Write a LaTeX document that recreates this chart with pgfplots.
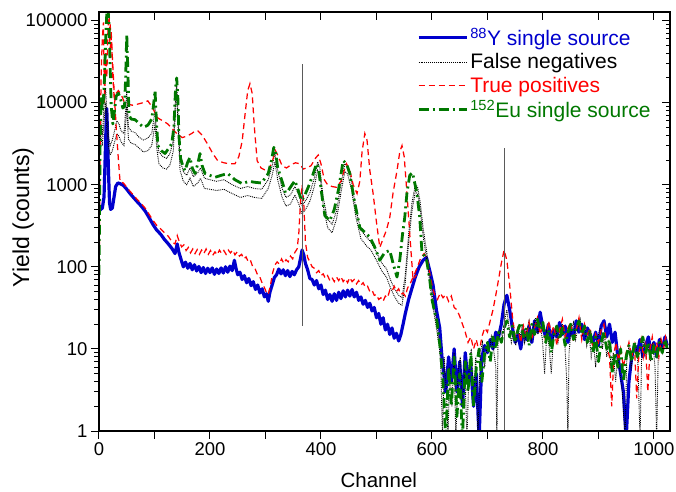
\documentclass[border=0pt]{standalone}
\usepackage{fontspec}
\setmainfont{Liberation Sans}
\usepackage{pgfplots}
\pgfplotsset{compat=1.18}
\definecolor{Yblue}{RGB}{0,0,205}
\definecolor{Eugreen}{RGB}{0,120,0}
\definecolor{Redc}{RGB}{255,0,0}
\definecolor{Vgray}{RGB}{90,90,90}
\begin{document}
\begin{tikzpicture}
\useasboundingbox (-99pt,-60pt) rectangle (577pt,431pt);
\begin{axis}[
  scale only axis, width=571pt, height=419pt,
  at={(0pt,0pt)}, anchor=south west,
  xmin=0, xmax=1029, ymin=1, ymax=127000, ymode=log,
  xtick={0,100,200,300,400,500,600,700,800,900,1000},
  ytick={1,10,100,1000,10000,100000},
  minor ytick={2,3,4,5,6,7,8,9,20,30,40,50,60,70,80,90,200,300,400,500,600,700,800,900,2000,3000,4000,5000,6000,7000,8000,9000,20000,30000,40000,50000,60000,70000,80000,90000},
  major tick length=8pt, minor tick length=4.5pt,
  every tick/.style={black, line width=1pt},
  axis line style={line width=1.3pt},
  /pgf/number format/assume math mode=true,
  xticklabels={0,,200,,400,,600,,800,,1000},
  yticklabels={1,10,100,1000,10000,100000},
  xtick pos=left, ytick pos=left, tick align=outside,
  tick label style={font=\fontsize{18.5}{21}\selectfont},
  xlabel={Channel}, ylabel={Yield (counts)},
  xlabel style={font=\fontsize{20.5}{24}\selectfont, at={(axis description cs:0.49,-0.118)}, anchor=center},
  ylabel style={font=\fontsize{23}{26}\selectfont, at={(axis description cs:-0.133,0.51)}, anchor=center},
  legend style={draw=none, fill=none, at={(axis description cs:0.975,0.972)}, anchor=north east,
    font=\fontsize{21}{24}\selectfont, row sep=2.5pt, nodes={inner sep=2pt}},
  legend cell align=left,
  legend image code/.code={\draw[#1] (0pt,0pt) -- (48pt,0pt);},
]
% 88Y single source
\addplot[Yblue, line width=3.2pt, line join=round, forget plot] coordinates {
(0,480) (3,500) (6,520) (9,700) (11,2000) (13,6000) (14,8500) (15,5000) (17,1500) (19,600) (21,500) (24,520) (27,700) (30,950) (34,1050) (38,1030) (44,980) (50,880) (56,780) (62,700) (68,630) (75,560) (83,480) (90,400) (97,330) (104,280) (111,250) (118,215) (125,190) (132,165) (137,145) (141,190) (144,150)
(148,122) (152,100) (156,114) (160,96) (164,110) (168,92) (172,106) (176,89) (180,101) (184,85) (188,98) (192,83) (196,96) (200,85) (204,97) (208,81) (212,94) (216,83) (220,97) (224,84) (228,100) (232,86) (236,102) (240,90) (244,120) (247,95) (250,80) (254,86) (258,70) (262,78) (266,64) (270,72) (274,59) (278,66) (282,53) (286,60) (290,48) (294,54) (298,43) (302,47) (305,38) (308,49) (312,60) (316,74) (320,80) (324,94) (328,82) (332,92) (336,78) (340,90) (344,76) (348,88) (352,80) (356,92) (360,100) (363,125) (366,160) (369,140) (372,110) (376,92) (380,72) (384,70) (388,60) (392,68) (396,54) (400,60) (404,46) (408,52) (412,40) (416,46) (420,38) (424,47) (428,39) (432,49) (436,41) (440,51) (444,43) (448,52) (452,44) (456,53) (460,43) (464,49) (468,39) (472,43) (476,35) (480,39) (484,32) (488,36) (492,29) (496,32) (500,24) (504,27) (508,20) (512,24) (516,17) (520,20) (524,15) (528,18) (532,13.5) (536,15.5) (540,12.5) (544,15)
(548,20) (552,27) (558,40) (564,55) (570,75) (577,100) (584,120) (590,130) (596,90) (602,60) (608,30) (614,18) (618,8)
(620,6) (625,3) (630,8) (635,4) (640,10) (645,3) (650,7) (655,2) (660,9) (665,4) (670,6) (675,2) (680,5) (685,0.8) (690,8) (695,11) (700,9) (705,13) (710,10) (715,16) (720,14) (725,20) (730,35) (735,45) (740,30) (745,18) (750,12) (755,15) (760,10) (765,17) (770,13) (775,19) (780,12) (785,22) (790,16) (795,28) (800,18) (805,14) (810,20) (815,11) (820,17) (825,14) (830,21) (835,15) (840,19) (845,12) (850,18) (855,14) (860,22) (865,16) (870,20) (875,13) (880,18) (885,15) (890,12) (895,16) (900,11) (905,19) (910,22) (915,14) (920,20) (925,12) (930,16) (935,8) (940,5) (945,3) (950,0.8) (955,4) (960,8) (965,11) (970,9) (975,13) (980,8) (985,11) (990,14) (995,9) (1000,12) (1005,8) (1010,13) (1015,10) (1020,14) (1024,11)
};
% False negatives (upper)
\addplot[black, densely dotted, line width=0.9pt, forget plot] coordinates {
(0,2500) (3,6000) (6,4000) (9,9000) (12,15000) (14,8000) (17,4000) (20,3000) (24,3500) (28,4500) (32,6000) (36,5500) (40,4500) (45,4200) (48,8000) (50,14000) (53,5000) (58,4500) (65,4300) (72,3800) (80,3500) (88,3700) (95,4200) (101,8000) (104,4000) (108,2500) (115,2200) (122,2100) (128,2400) (134,3500) (138,12000) (140,17000) (143,6000) (146,2000) (152,1450) (158,1300) (164,1600) (170,1250) (178,1400) (183,1600) (190,1200) (200,1150) (212,1100) (225,1150) (240,1000) (255,900) (268,950) (280,900) (293,880) (305,1150) (312,1700) (317,2400) (322,1500) (330,900) (337,700) (345,750) (353,950) (360,750) (366,560) (373,650) (380,800) (388,1200) (394,1900) (398,1600) (404,700) (412,380) (420,330) (428,480) (436,1000) (443,1800) (448,1700) (455,1100) (463,500) (472,280) (482,230) (490,200) (500,150) (510,110) (518,95) (525,70) (532,55) (540,45) (546,42) (552,80) (558,250) (564,600) (570,1000) (574,950) (579,600) (584,300) (590,160) (596,80)
(602,40) (607,25) (612,14) (616,6) (619,0.8) (622,8) (626,3) (629,0.8) (632,6) (636,2) (640,9) (643,0.8) (647,5) (651,8) (655,2) (659,7) (663,0.8) (667,6) (671,10) (675,3) (679,8) (683,0.8) (687,9) (691,12) (695,6) (699,11) (703,9) (707,14) (711,10) (715,6) (717,0.8) (719,12) (723,17) (727,14) (731,22) (735,30) (739,18) (743,12) (747,16) (751,11) (755,18) (759,14) (763,20) (767,12) (771,17) (775,22) (779,13) (783,19) (787,24) (791,15) (795,20) (799,13) (803,5) (807,16) (811,11) (815,5) (819,14) (823,18) (827,12) (831,17) (835,20) (839,13) (843,4) (845,0.8) (847,9) (851,17) (855,21) (859,13) (863,18) (867,23) (871,15) (875,19) (879,11) (883,16) (887,8) (891,12) (895,6) (899,14) (903,18) (907,10) (911,15) (915,8) (919,12) (923,6) (927,9) (931,4) (935,8) (939,5) (943,3) (948,0.8) (951,7) (955,11) (959,6) (963,9) (967,12) (971,7) (975,0.8) (978,9) (982,13) (986,8) (990,11) (994,7) (998,12) (1002,6) (1005,0.8) (1008,10) (1012,13) (1016,9) (1020,12) (1024,10)
};
% False negatives (lower)
\addplot[black, densely dotted, line width=0.9pt, forget plot] coordinates {
(0,1800) (3,4000) (6,3000) (9,6000) (12,10000) (14,5000) (17,3000) (20,2300) (24,2600) (28,3300) (32,4200) (36,3900) (40,3300) (45,3000) (48,5500) (50,9000) (53,3600) (58,3200) (65,3100) (72,2800) (80,2500) (88,2600) (95,3000) (101,5500) (104,2800) (108,1800) (115,1600) (122,1550) (128,1750) (134,2600) (138,9000) (140,13000) (143,4500) (146,1500) (152,1100) (158,1000) (164,1200) (170,950) (178,1050) (183,1200) (190,900) (200,880) (212,850) (225,880) (240,780) (255,700) (268,740) (280,700) (293,680) (305,900) (312,1300) (317,1900) (322,1150) (330,700) (337,550) (345,580) (353,750) (360,580) (366,440) (373,510) (380,630) (388,950) (394,1500) (398,1300) (404,560) (412,300) (420,260) (428,380) (436,800) (443,1450) (448,1350) (455,870) (463,400) (472,220) (482,180) (490,160) (500,120) (510,88) (518,75) (525,56) (532,44) (540,36) (546,34) (552,65) (558,200) (564,480) (570,820) (574,780) (579,480) (584,240) (590,130) (596,65) (602,32) (607,20) (612,12)
};
% True positives (upper)
\addplot[Redc, dash pattern=on 6pt off 4pt, line width=1.25pt, forget plot] coordinates {
(0,45) (2,3000) (4,25000) (6,60000) (8,95000) (10,10000) (12,40000) (14,20000) (16,70000) (18,130000) (20,40000) (22,75000) (25,20000) (28,10000) (31,13000) (35,14000) (40,12500) (46,10000) (52,9600) (60,9300) (70,9600) (80,10000) (88,10500) (95,9000) (101,7500) (106,6500) (115,6000) (124,5500) (132,4800) (140,4200) (150,3750) (158,3900) (167,4200) (173,4500) (178,4540) (186,4000) (196,3100) (205,2400) (214,1960) (225,1850) (235,1800) (245,1800) (252,2200) (258,3400) (263,7000) (268,14000) (272,17000) (276,13000) (280,5000) (285,1960) (292,1600) (300,1500) (305,1480) (312,1900) (318,2600) (322,2300) (330,1700) (338,1600) (346,1750) (354,1850) (362,1800) (368,1550) (374,1600) (382,1700) (390,2100) (395,2300) (400,1800) (406,1150) (412,1000) (420,950) (428,930) (436,1100) (442,1500) (446,1800) (452,1500) (458,1000) (465,780) (470,1100) (474,2500) (479,4200) (483,3500) (488,1500) (494,780) (500,350) (506,172) (512,220) (518,280) (524,400) (530,800) (537,1480) (542,2500) (546,3000) (550,2200) (555,780) (560,250) (566,70) (572,80)
};
% True positives (lower)
\addplot[Redc, dash pattern=on 6pt off 4pt, line width=1.25pt, forget plot] coordinates {
(20,90000) (23,50000) (27,15000) (31,5000) (35,2000) (38,1080) (44,1050) (50,930) (56,830) (62,750) (68,670) (75,600) (83,520) (90,440) (97,370) (104,320) (111,290) (118,260) (125,235) (132,200) (137,190) (141,240)
(145,200) (149,175) (153,185) (157,158) (161,172) (165,148) (169,165) (173,145) (177,162) (181,142) (185,160) (189,145) (193,165) (197,142) (201,158) (205,138) (209,152) (213,140) (217,160) (221,145) (225,158) (229,142) (233,160) (237,148) (241,160) (245,140) (249,152) (253,135) (257,142) (261,125) (265,132) (269,115) (273,120) (277,100) (281,96) (285,82) (289,78) (293,66) (297,58) (301,50) (305,46) (309,60) (313,85) (317,105) (321,115) (325,108) (329,125) (333,110) (337,122) (341,115) (345,135) (349,125) (353,150) (357,165) (360,250) (363,600) (366,1000) (369,600) (372,200) (376,130) (380,115) (384,100) (388,96) (392,85) (396,90) (400,78) (404,82) (408,72) (412,78) (416,68) (420,74) (424,66) (428,75) (432,68) (436,76) (440,66) (444,72) (448,64) (452,74) (456,66) (460,70) (464,62) (468,68) (472,60) (476,64) (480,56) (484,58) (488,50) (492,52) (496,45) (500,46) (504,40) (508,42) (512,38) (516,44) (520,42) (524,52) (528,50) (532,58) (536,50) (540,54) (544,46) (548,48) (552,44)
(556,55) (562,65) (568,80) (574,100) (580,130) (586,145) (592,120) (598,70)
(600,60) (605,45) (610,40) (615,48) (620,42) (625,46) (630,38) (635,44) (640,32) (645,30) (650,25) (655,20) (660,16) (665,12) (670,14) (675,10) (680,13) (685,9) (690,14) (695,18) (700,16) (705,22) (710,30) (715,45) (720,70) (725,110) (730,160) (735,120) (740,60) (745,25) (750,14) (755,18)
(760,12) (765,19) (770,14) (775,21) (780,13) (785,18) (790,24) (795,15) (800,20) (805,12) (810,22) (815,16) (820,19) (825,11) (830,17) (835,23) (840,14) (845,18) (850,21) (855,12) (860,17) (865,24) (870,13) (875,20) (880,15) (885,18) (890,10) (895,15) (900,12) (905,17) (910,20) (915,11) (920,8) (924,2) (928,9) (932,12) (936,7) (940,10) (945,6) (950,9) (955,12) (960,8) (965,11) (969,2.5) (973,9) (977,13) (981,8) (985,11) (989,3) (993,10) (997,14) (1001,9) (1005,12) (1009,8) (1013,13) (1017,10) (1021,14) (1024,11)
};
% 152Eu single source
\addplot[Eugreen, dash pattern=on 10pt off 4pt on 2pt off 4pt, line width=2.8pt, line join=round, forget plot] coordinates {
(0,80) (2,3000) (4,12000) (6,8000) (8,11000) (10,20000) (12,60000) (14,120000) (16,150000) (18,90000) (20,30000) (22,9000) (25,5500) (28,8000) (31,12000) (35,13000) (39,11000) (43,8600) (46,9000) (48,20000) (50,68000) (52,25000) (54,7000) (58,6300) (65,6200) (72,5600) (80,5000) (88,5300) (95,6300) (98,9000) (101,14000) (103,7000) (106,3000) (112,2600) (119,2400) (126,2800) (131,3150) (135,5000) (138,15000) (140,20000) (142,12000) (144,4000) (147,2100) (151,1700) (155,1480) (160,1900) (164,2150) (168,1600) (173,1370) (178,1800) (182,2400) (186,1700) (191,1370) (200,1300) (209,1230) (220,1300) (232,1370) (245,1150) (258,1030) (270,1100) (281,1070) (293,1050) (305,1370) (311,2000) (315,2850) (318,2600) (322,1600) (330,1100) (336,800) (341,850) (348,1000) (353,1120) (358,900) (365,640) (371,750) (377,930) (385,1300) (392,1800) (396,1500) (401,800) (407,420) (416,366) (424,500) (432,900) (440,1960) (446,1800) (452,1370) (460,650) (470,300) (480,260) (488,230) (496,180) (506,120) (515,150) (524,158) (530,110) (537,75) (542,120) (547,250) (551,400) (555,800) (560,1300) (565,1400) (573,780) (578,400) (582,150) (590,125) (596,70) (600,40) (605,28) (609,22)
(615,10) (620,4) (625,0.8) (630,6) (635,2) (640,8) (645,1.5) (650,5) (655,0.8) (660,7) (665,3) (670,9) (675,2) (680,6) (685,10) (690,4) (695,9) (700,12) (705,7) (710,14) (715,10) (720,16) (725,12) (730,18) (735,22) (740,14) (745,19) (750,12) (755,17) (760,21) (765,14) (770,18) (775,11) (780,20) (785,15) (790,23) (795,17) (800,21) (805,12) (810,17) (815,9) (820,15) (825,19) (830,13) (835,18) (840,11) (845,16) (850,20) (855,13) (860,18) (865,22) (870,15) (875,19) (880,12) (885,17) (890,9) (895,14) (900,7) (905,12) (910,16) (915,10) (920,13) (925,5) (930,9) (935,6) (940,10) (945,4) (950,8) (955,11) (960,7) (965,12) (970,8) (975,10) (980,14) (985,9) (990,12) (995,7) (1000,11) (1005,8) (1010,12) (1015,9) (1020,13) (1024,10)
};
% marker lines
\addplot[Vgray, line width=0.8pt, forget plot] coordinates {(366,29500) (366,19)};
\addplot[Vgray, line width=0.8pt, forget plot] coordinates {(731,2800) (731,0.5)};
% legend
\addlegendimage{draw=Yblue, line width=3.2pt}
\addlegendentry[text=Yblue]{\textsuperscript{88}Y single source}
\addlegendimage{draw=black, densely dotted, line width=0.9pt}
\addlegendentry[text=black]{False negatives}
\addlegendimage{draw=Redc, dash pattern=on 6pt off 4pt, line width=1.25pt}
\addlegendentry[text=Redc]{True positives}
\addlegendimage{draw=Eugreen, dash pattern=on 10pt off 4pt on 2pt off 4pt, line width=2.8pt}
\addlegendentry[text=Eugreen]{\textsuperscript{152}Eu single source}
\end{axis}
\begin{axis}[
  scale only axis, width=571pt, height=419pt,
  at={(0pt,0pt)}, anchor=south west,
  xmin=0, xmax=1029, ymin=1, ymax=127000, ymode=log,
  xtick={0,100,200,300,400,500,600,700,800,900,1000},
  ytick={1,10,100,1000,10000,100000},
  minor ytick={2,3,4,5,6,7,8,9,20,30,40,50,60,70,80,90,200,300,400,500,600,700,800,900,2000,3000,4000,5000,6000,7000,8000,9000,20000,30000,40000,50000,60000,70000,80000,90000},
  major tick length=8pt, minor tick length=4.5pt,
  every tick/.style={black, line width=1pt},
  axis line style={line width=1.3pt},
  xtick pos=right, ytick pos=right, tick align=inside,
  xticklabels={}, yticklabels={},
]
\addplot[draw=none] coordinates {(500,10)};
\end{axis}
\end{tikzpicture}
\end{document}
